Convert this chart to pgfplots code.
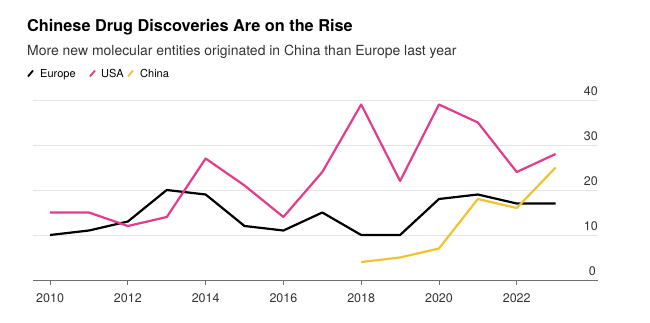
\documentclass[border=0pt]{standalone}
\usepackage{pgfplots}
\pgfplotsset{compat=1.18}
\usepackage{fontspec}
\setmainfont{TeX Gyre Heros}
\definecolor{usapink}{HTML}{E23C8C}
\definecolor{chinayellow}{HTML}{F1C232}
\definecolor{gridgrey}{HTML}{E4E4E4}
\definecolor{axisgrey}{HTML}{6E6E6E}
\definecolor{txtgrey}{HTML}{333333}
\begin{document}
\begin{tikzpicture}[x=1bp,y=1bp]
\useasboundingbox[fill=white] (0,0) rectangle (650,322);
\node[anchor=base west, inner sep=0pt, font=\fontsize{16.3bp}{20bp}\selectfont\bfseries] at (27,291) {Chinese Drug Discoveries Are on the Rise};
\node[anchor=base west, inner sep=0pt, font=\fontsize{13.95bp}{17bp}\selectfont, text=txtgrey] at (27,267) {More new molecular entities originated in China than Europe last year};
\draw[line width=1.8bp] (28,245.5) -- (33,251.5);
\node[anchor=base west, inner sep=0pt, font=\fontsize{11bp}{13bp}\selectfont] at (40,245) {Europe};
\draw[line width=1.8bp, usapink] (90,245.5) -- (95,251.5);
\node[anchor=base west, inner sep=0pt, font=\fontsize{11bp}{13bp}\selectfont] at (101,245) {USA};
\draw[line width=1.8bp, chinayellow] (128,245.5) -- (133,251.5);
\node[anchor=base west, inner sep=0pt, font=\fontsize{11bp}{13bp}\selectfont] at (140,245) {China};
\begin{axis}[
  at={(33bp,42bp)}, anchor=south west,
  scale only axis, width=565bp, height=180bp,
  xmin=2009.56, xmax=2024.09, ymin=0, ymax=40,
  axis lines=none,
  clip=false,
  xtick={2010,2012,...,2022},
  ytick={0,10,20,30,40},
  x tick label style={/pgf/number format/1000 sep={}},
]
\foreach \yy in {10,20,30,40} {
  \edef\tmp{\noexpand\draw[gridgrey, line width=0.9bp] (axis cs:2009.56,\yy) -- (axis cs:2024.09,\yy);}
  \tmp
  \edef\tmp{\noexpand\node[anchor=south east, inner sep=0pt, font=\noexpand\fontsize{12.5bp}{14bp}\noexpand\selectfont, text=txtgrey] at ([yshift=4bp]axis cs:2024.09,\yy) {\yy};}
  \tmp
}
\node[anchor=south east, inner sep=0pt, font=\fontsize{12.5bp}{14bp}\selectfont, text=txtgrey] at ([xshift=-2bp,yshift=4bp]axis cs:2024.09,0) {0};
\draw[axisgrey, line width=0.9bp] (axis cs:2009.56,0) -- (axis cs:2024.09,0);
\foreach \xx in {2010,2012,...,2022} {
  \edef\tmp{\noexpand\draw[axisgrey, line width=0.9bp] (axis cs:\xx,0) -- ([yshift=-5bp]axis cs:\xx,0);}
  \tmp
  \edef\tmp{\noexpand\node[anchor=base, inner sep=0pt, font=\noexpand\fontsize{12.5bp}{14bp}\noexpand\selectfont, text=txtgrey] at ([yshift=-22bp]axis cs:\xx,0) {\xx};}
  \tmp
}
\addplot[black, line width=2.2bp, line join=round] coordinates {
(2010,10) (2011,11) (2012,13) (2013,20) (2014,19) (2015,12) (2016,11)
(2017,15) (2018,10) (2019,10) (2020,18) (2021,19) (2022,17) (2023,17)};
\addplot[usapink, line width=2.2bp, line join=round] coordinates {
(2010,15) (2011,15) (2012,12) (2013,14) (2014,27) (2015,21) (2016,14)
(2017,24) (2018,39) (2019,22) (2020,39) (2021,35) (2022,24) (2023,28)};
\addplot[chinayellow, line width=2.2bp, line join=round] coordinates {
(2018,4) (2019,5) (2020,7) (2021,18) (2022,16) (2023,25)};
\end{axis}
\end{tikzpicture}
\end{document}
